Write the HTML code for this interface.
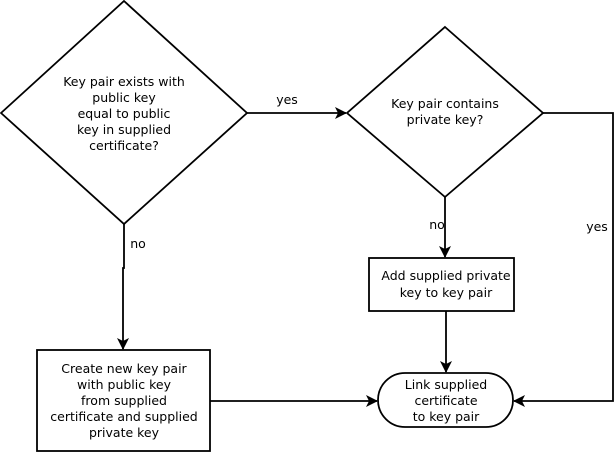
<!DOCTYPE html><html><head><style>body{margin:0;background:#fff}svg{display:block}text{font-family:"DejaVu Sans",sans-serif;font-size:12.5px;fill:#000}</style></head><body>
<svg width="615" height="453" viewBox="0 0 615 453">
<defs><marker id="a" markerWidth="12" markerHeight="12" refX="11" refY="6" orient="auto" markerUnits="userSpaceOnUse"><path d="M0,0 L12,6 L0,12 L3,6 Z" fill="#000"/></marker></defs>
<g fill="none" stroke="#000" stroke-width="1.8">
<polygon points="124,1 247,113 124,224 1,113" fill="#fff"/>
<polygon points="445,27 543,113 445,197 347,113" fill="#fff"/>
<rect x="369" y="258" width="145" height="53"/>
<rect x="37" y="350" width="173" height="101"/>
<rect x="378" y="373" width="135" height="54" rx="27" ry="27"/>
<path d="M247,113 L346,113" marker-end="url(#a)"/>
<path d="M124,224 L124,268 L123,268 L123,349" marker-end="url(#a)"/>
<path d="M445,197 L445,257" marker-end="url(#a)"/>
<path d="M543,113 L613,113 L613,401 L514,401" marker-end="url(#a)"/>
<path d="M446,311 L446,372" marker-end="url(#a)"/>
<path d="M210,401 L377,401" marker-end="url(#a)"/>
</g>
<g text-anchor="middle">
<text x="124" y="86">Key pair exists with</text>
<text x="124" y="102">public key</text>
<text x="124" y="118">equal to public</text>
<text x="124" y="134">key in supplied</text>
<text x="124" y="150">certificate?</text>
<text x="445" y="108">Key pair contains</text>
<text x="445" y="124">private key?</text>
<text x="446" y="280">Add supplied private</text>
<text x="446" y="297">key to key pair</text>
<text x="124" y="373">Create new key pair</text>
<text x="124" y="389">with public key</text>
<text x="124" y="405">from supplied</text>
<text x="124" y="421">certificate and supplied</text>
<text x="124" y="437">private key</text>
<text x="446" y="389">Link supplied</text>
<text x="446" y="405">certificate</text>
<text x="446" y="421">to key pair</text>
<text x="287" y="104">yes</text>
<text x="138" y="248">no</text>
<text x="437" y="229">no</text>
<text x="597" y="231">yes</text>
</g>
</svg></body></html>
